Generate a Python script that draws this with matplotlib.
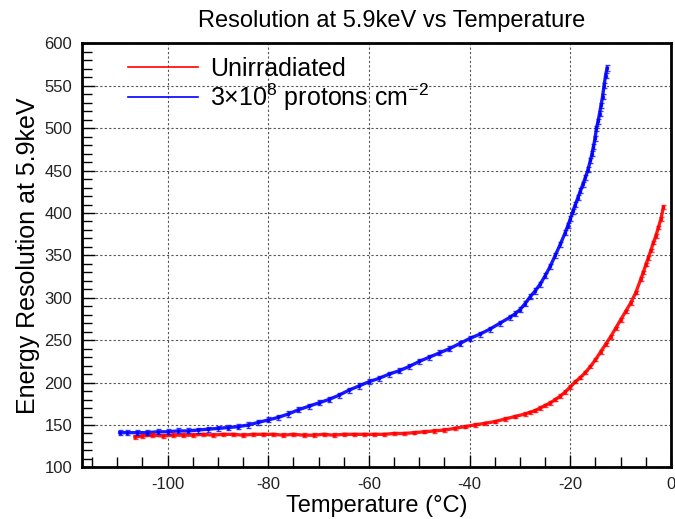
import matplotlib
matplotlib.use("Agg")
import matplotlib.pyplot as plt
from matplotlib.lines import Line2D
from matplotlib.ticker import MultipleLocator

plt.rcParams['font.family'] = ['Liberation Sans', 'DejaVu Sans']
plt.rcParams['mathtext.fontset'] = 'custom'
plt.rcParams['mathtext.rm'] = 'Liberation Sans'
plt.rcParams['mathtext.it'] = 'Liberation Sans'
plt.rcParams['axes.unicode_minus'] = False

# ---- data ----
temp_unirr = [-106.5, -105,
              -103, -101, -99, -97, -95, -93, -91, -89, -87, -85,
              -83, -81, -79, -77, -75, -73, -71, -69, -67, -65,
              -63, -61, -59, -57, -55, -53, -51, -49, -47, -45,
              -43, -41, -39, -37, -35, -33, -31, -29,
              -28, -27, -26, -25, -24, -23, -22, -21, -20, -19, -18, -17,
              -16, -15, -14, -13, -12, -11, -10, -9, -8, -7, -6,
              -5.5, -5, -4.5, -4, -3.5, -3, -2.5, -2, -1.5]
res_unirr = [136, 137,
             138, 137, 138, 138, 138, 139, 138, 139, 139, 138,
             139, 139, 139, 138, 139, 138, 138, 139, 138, 139,
             139, 139, 139, 139, 140, 140, 141, 142, 143, 144,
             146, 148, 150, 152, 154, 157, 160, 163,
             165, 167, 170, 173, 176, 180, 184, 189, 195, 201, 206, 212,
             219, 227, 236, 245, 254, 264, 274, 284, 294, 306, 322,
             330, 339, 347, 356, 365, 373, 383, 393, 407]

temp_irr = [-109.5, -108,
            -106, -104, -102, -100, -98, -96, -94, -92, -90, -88,
            -86, -84, -82, -80, -78, -76, -74, -72, -70, -68,
            -66, -64, -62, -60, -58, -56, -54, -52, -50, -48,
            -46, -44, -42, -40, -38, -36, -34, -32,
            -31, -30, -29, -28, -27, -26, -25, -24, -23, -22, -21,
            -20.5, -20, -19.5, -19, -18.5, -18, -17.5, -17, -16.5, -16,
            -15.7, -15.4, -15.1, -14.8, -14.5, -14.2, -13.9, -13.6, -13.3, -13.0, -12.7]
res_irr = [141, 141,
           141, 141, 142, 142, 143, 143, 144, 145, 146, 147,
           148, 150, 153, 156, 159, 163, 168, 172, 176, 180,
           185, 191, 196, 201, 205, 210, 214, 219, 225, 230,
           235, 240, 246, 252, 257, 263, 270, 277,
           281, 286, 293, 301, 308, 316, 326, 337, 350, 363, 377,
           385, 393, 402, 410, 418, 426, 434, 442, 451, 462,
           470, 478, 488, 500, 508, 517, 527, 537, 550, 562, 571]

err_unirr = 2.0
err_irr = 3.0

labels = ["Unirradiated", "3\u00d710$^{8}$ protons cm$^{\\mathrm{-2}}$"]
colors = ["#ff0000", "#0000ff"]

# ---- figure ----
fig = plt.figure(figsize=(6.75, 5.19), dpi=100)
ax = fig.add_axes([82/675, 1-467.4/519, (671-82)/675, (467.4-43.4)/519])

for T, V, e, c in [(temp_unirr, res_unirr, err_unirr, colors[0]),
                   (temp_irr, res_irr, err_irr, colors[1])]:
    ax.plot(T, V, color=c, lw=2.4, alpha=0.9, zorder=3)
    ax.errorbar(T, V, yerr=e, fmt='s', ms=1.8, color=c, mfc=c, mec=c,
                ecolor=c, elinewidth=1, capsize=1.8, capthick=1, zorder=4,
                alpha=0.75)

ax.set_xlim(-117, 0)
ax.set_ylim(100, 600)
ax.xaxis.set_major_locator(MultipleLocator(20))
ax.xaxis.set_minor_locator(MultipleLocator(5))
ax.yaxis.set_major_locator(MultipleLocator(50))
ax.yaxis.set_minor_locator(MultipleLocator(10))
ax.tick_params(which='both', direction='in', top=False, right=False,
               labelsize=12, colors='black', width=1)
ax.tick_params(which='major', length=9, pad=7)
ax.tick_params(which='minor', length=7)
for lab in ax.get_xticklabels() + ax.get_yticklabels():
    lab.set_color('#222222')
ax.grid(True, which='major', linestyle=(0, (2, 2)), color='#555555', lw=0.8)
ax.set_axisbelow(True)
for s in ax.spines.values():
    s.set_linewidth(2)
    s.set_color('black')

ax.set_xlabel("Temperature (°C)", fontsize=17, labelpad=2)
ax.set_ylabel("Energy Resolution at 5.9keV", fontsize=18, labelpad=3)
fig.text(392/675, 1-21/519, "Resolution at 5.9keV vs Temperature",
         fontsize=17, ha='center', va='center')

handles = [Line2D([], [], color=colors[0], lw=1.2),
           Line2D([], [], color=colors[1], lw=1.2)]
leg = ax.legend(handles, labels, loc='upper left',
                bbox_to_anchor=(128/675, 1-57/519), bbox_transform=fig.transFigure,
                frameon=False, fontsize=18, handlelength=2.8, handletextpad=0.5,
                labelspacing=0.02, borderaxespad=0, borderpad=0)

fig.savefig("out.png", dpi=100)
